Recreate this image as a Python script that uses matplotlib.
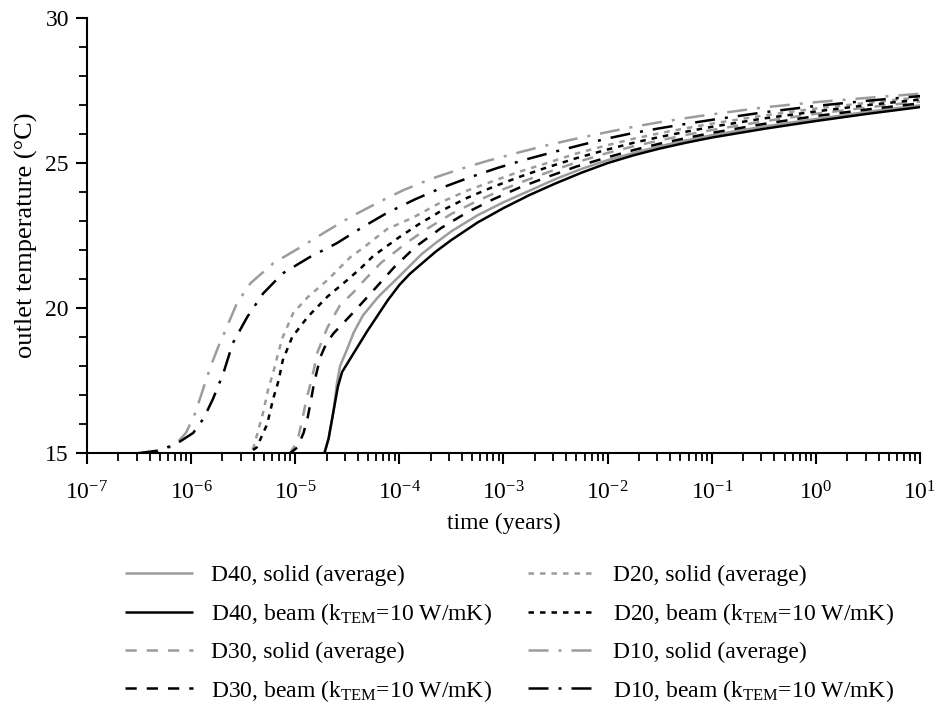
import matplotlib
matplotlib.use("Agg")

import matplotlib.pyplot as plt
from matplotlib.ticker import MultipleLocator, FixedLocator, NullFormatter
import numpy as np

plt.rcParams["font.family"] = ["Liberation Serif", "DejaVu Serif"]
plt.rcParams["mathtext.fontset"] = "custom"
plt.rcParams["mathtext.rm"] = "Liberation Serif"
plt.rcParams["mathtext.it"] = "Liberation Serif:italic"

# ---- data: log10(time in years), outlet temperature (degC) ----
d40_solid_logt = [-6.5, -4.72, -4.68, -4.63, -4.6, -4.57, -4.5, -4.44, -4.35, -4.2, -4.0, -3.79,
                  -3.65, -3.5, -3.25, -3.0, -2.75, -2.5, -2.25, -2.0, -1.75, -1.5, -1.25, -1.0,
                  -0.5, 0.0, 0.5, 1.0]
d40_solid_T = [15.0, 15.0, 15.5, 16.5, 17.4, 18.0, 18.6, 19.15, 19.75, 20.4, 21.1, 21.85,
               22.25, 22.65, 23.2, 23.65, 24.05, 24.45, 24.8, 25.1, 25.35, 25.58, 25.78, 25.96,
               26.26, 26.52, 26.77, 26.99]

d40_beam_logt = [-6.5, -4.72, -4.68, -4.63, -4.59, -4.55, -4.43, -4.31, -4.11, -4.0, -3.9, -3.79,
                 -3.65, -3.5, -3.25, -3.0, -2.75, -2.5, -2.25, -2.0, -1.75, -1.5, -1.25, -1.0,
                 -0.5, 0.0, 0.5, 1.0]
d40_beam_T = [15.0, 15.0, 15.5, 16.5, 17.3, 17.8, 18.5, 19.2, 20.28, 20.8, 21.18, 21.52,
              21.95, 22.35, 22.95, 23.45, 23.9, 24.3, 24.67, 25.0, 25.27, 25.5, 25.7, 25.88,
              26.18, 26.45, 26.7, 26.93]

d30_solid_logt = [-6.5, -5.05, -4.98, -4.93, -4.89, -4.86, -4.82, -4.79, -4.69, -4.57, -4.44,
                  -4.34, -4.18, -3.92, -3.75, -3.5, -3.25, -3.0, -2.75, -2.5, -2.25, -2.0,
                  -1.75, -1.5, -1.25, -1.0, -0.5, 0.0, 0.5, 1.0]
d30_solid_T = [15.0, 15.0, 15.4, 16.2, 16.9, 17.3, 17.9, 18.45, 19.34, 20.1, 20.55,
               20.95, 21.55, 22.28, 22.7, 23.25, 23.7, 24.1, 24.45, 24.78, 25.08, 25.35,
               25.58, 25.78, 25.97, 26.14, 26.44, 26.7, 26.92, 27.12]

d30_beam_logt = [-6.5, -5.05, -4.98, -4.92, -4.88, -4.85, -4.82, -4.76, -4.7, -4.63, -4.44,
                 -4.24, -4.05, -3.85, -3.6, -3.35, -3.1, -2.85, -2.58, -2.3, -2.0,
                 -1.75, -1.5, -1.25, -1.0, -0.5, 0.0, 0.5, 1.0]
d30_beam_T = [15.0, 15.0, 15.2, 15.7, 16.24, 16.8, 17.4, 18.3, 18.8, 19.14, 19.86,
              20.65, 21.41, 22.1, 22.76, 23.3, 23.75, 24.15, 24.52, 24.88, 25.2,
              25.45, 25.67, 25.86, 26.04, 26.35, 26.62, 26.85, 27.06]

d20_solid_logt = [-6.5, -5.45, -5.4, -5.31, -5.26, -5.21, -5.16, -5.12, -5.02, -4.88, -4.69,
                  -4.47, -4.34, -4.12, -3.86, -3.6, -3.35, -3.1, -2.85, -2.6, -2.3, -2.0,
                  -1.75, -1.5, -1.25, -1.0, -0.5, 0.0, 0.5, 1.0]
d20_solid_T = [15.0, 15.0, 15.2, 16.38, 17.2, 17.8, 18.5, 19.0, 19.83, 20.38, 20.97,
               21.76, 22.1, 22.72, 23.14, 23.65, 24.05, 24.38, 24.7, 24.98, 25.33, 25.62,
               25.84, 26.03, 26.2, 26.36, 26.64, 26.88, 27.08, 27.27]

d20_beam_logt = [-6.5, -5.45, -5.37, -5.27, -5.21, -5.16, -5.12, -5.03, -4.88, -4.69, -4.5,
                 -4.37, -4.25, -4.0, -3.81, -3.6, -3.35, -3.1, -2.85, -2.6, -2.3, -2.0,
                 -1.75, -1.5, -1.25, -1.0, -0.5, 0.0, 0.5, 1.0]
d20_beam_T = [15.0, 15.0, 15.2, 16.0, 16.9, 17.5, 18.2, 19.0, 19.7, 20.4, 20.97,
              21.38, 21.8, 22.45, 22.9, 23.35, 23.8, 24.18, 24.52, 24.83, 25.17, 25.47,
              25.7, 25.9, 26.08, 26.25, 26.54, 26.78, 27.0, 27.19]

d10_solid_logt = [-6.5, -6.3, -6.15, -6.05, -5.97, -5.91, -5.85, -5.79, -5.73, -5.67, -5.56,
                  -5.43, -5.21, -4.95, -4.7, -4.47, -4.2, -3.96, -3.7, -3.43, -3.15, -2.86,
                  -2.6, -2.33, -2.0, -1.75, -1.5, -1.25, -1.0, -0.5, 0.0, 0.5, 1.0]
d10_solid_T = [15.0, 15.05, 15.3, 15.7, 16.3, 16.93, 17.6, 18.2, 18.75, 19.24, 20.17,
               20.86, 21.55, 22.1, 22.65, 23.14, 23.65, 24.07, 24.45, 24.78, 25.08, 25.36,
               25.6, 25.82, 26.07, 26.25, 26.41, 26.55, 26.68, 26.92, 27.1, 27.25, 27.39]

d10_beam_logt = [-6.51, -6.3, -6.13, -5.98, -5.88, -5.79, -5.69, -5.6, -5.46, -5.31, -5.12,
                 -4.86, -4.6, -4.36, -4.12, -3.85, -3.6, -3.33, -3.06, -2.79, -2.52, -2.26,
                 -2.0, -1.75, -1.5, -1.25, -1.0, -0.5, 0.0, 0.5, 1.0]
d10_beam_T = [15.0, 15.1, 15.35, 15.7, 16.2, 16.87, 17.76, 18.79, 19.7, 20.5, 21.2,
              21.76, 22.24, 22.78, 23.28, 23.75, 24.14, 24.5, 24.83, 25.12, 25.38, 25.62,
              25.85, 26.04, 26.2, 26.35, 26.49, 26.75, 26.97, 27.15, 27.31]

x_decades = list(range(-7, 2))
y_ticks = [15, 20, 25, 30]

GRAY = "#9c9c9c"
BLACK = "#000000"
LW = 1.8

DASHED = (0, (4.5, 4))
DOTTED = (0, (2.2, 2.4))
DASHDOT = (0, (8, 4, 1.2, 4))

series = [
    ("D40, solid (average)", d40_solid_logt, d40_solid_T, GRAY, "solid"),
    ("D40, beam (k$_{\\mathrm{TEM}}$=10 W/mK)", d40_beam_logt, d40_beam_T, BLACK, "solid"),
    ("D30, solid (average)", d30_solid_logt, d30_solid_T, GRAY, DASHED),
    ("D30, beam (k$_{\\mathrm{TEM}}$=10 W/mK)", d30_beam_logt, d30_beam_T, BLACK, DASHED),
    ("D20, solid (average)", d20_solid_logt, d20_solid_T, GRAY, DOTTED),
    ("D20, beam (k$_{\\mathrm{TEM}}$=10 W/mK)", d20_beam_logt, d20_beam_T, BLACK, DOTTED),
    ("D10, solid (average)", d10_solid_logt, d10_solid_T, GRAY, DASHDOT),
    ("D10, beam (k$_{\\mathrm{TEM}}$=10 W/mK)", d10_beam_logt, d10_beam_T, BLACK, DASHDOT),
]

fig = plt.figure(figsize=(9.35, 7.06), dpi=100)
ax = fig.add_axes([0.093, 0.358, 0.891, 0.6165])

lines = []
for label, logt, temp, color, ls in series:
    t = 10.0 ** np.asarray(logt)
    (ln,) = ax.plot(t, temp, color=color, linestyle=ls, linewidth=LW, label=label,
                    solid_capstyle="butt", dash_capstyle="butt", solid_joinstyle="round")
    lines.append(ln)

ax.set_xscale("log")
ax.set_xlim(1e-7, 1e1)
ax.set_ylim(15, 30)
ax.set_yticks(y_ticks)
ax.yaxis.set_minor_locator(MultipleLocator(1))

major_x = [10.0 ** k for k in x_decades]
minor_x = [m * 10.0 ** k for k in x_decades[:-1] for m in range(2, 10)]
ax.set_xticks(major_x)
ax.set_xticklabels(["$10^{%d}$" % k for k in x_decades])
ax.xaxis.set_minor_locator(FixedLocator(minor_x))
ax.xaxis.set_minor_formatter(NullFormatter())

for s in ("top", "right"):
    ax.spines[s].set_visible(False)
for s in ("left", "bottom"):
    ax.spines[s].set_linewidth(1.5)

ax.tick_params(axis="both", which="major", direction="out", length=8, width=1.5, labelsize=17)
ax.tick_params(axis="x", which="major", pad=12)
ax.tick_params(axis="y", which="major", pad=5)
ax.tick_params(axis="both", which="minor", direction="out", length=5.5, width=1.3)

ax.set_xlabel("time (years)", fontsize=17, labelpad=6)
ax.set_ylabel("outlet temperature (°C)", fontsize=19, labelpad=5)

fig.legend(lines, [s[0] for s in series],
           loc="upper left", bbox_to_anchor=(0.134, 0.2), ncol=2, frameon=False,
           fontsize=17, handlelength=2.85, handletextpad=0.76, columnspacing=1.55,
           labelspacing=0.62, borderaxespad=0.0, borderpad=0.0)

fig.savefig("out.png", dpi=100)
plt.close(fig)
